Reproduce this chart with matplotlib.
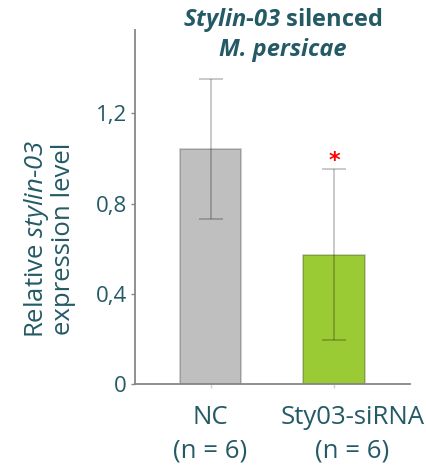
import matplotlib
matplotlib.use("Agg")
import matplotlib.pyplot as plt
from matplotlib.transforms import ScaledTranslation

plt.rcParams['font.family'] = ['Open Sans', 'DejaVu Sans']
plt.rcParams['mathtext.fontset'] = 'custom'
plt.rcParams['mathtext.rm'] = 'Open Sans'
plt.rcParams['mathtext.it'] = 'Open Sans:italic'
plt.rcParams['mathtext.sf'] = 'Open Sans:italic'
plt.rcParams['mathtext.bf'] = 'Open Sans:bold'
plt.rcParams['mathtext.bfit'] = 'Open Sans:italic:bold'

# données
groups = ["NC\n(n = 6)", "Sty03-siRNA\n(n = 6)"]
means = [1.04, 0.573]
errors = [0.31, 0.38]
bar_colors = ["#bfbfbf", "#9acb34"]
signif = ["", "*"]
yticks = [0, 0.4, 0.8, 1.2]
ytick_labels = ["0", "0,4", "0,8", "1,2"]

txt = "#245a66"
axis_col = "#878787"

fig = plt.figure(figsize=(4.26, 4.66), dpi=100)
ax = fig.add_axes([0.317, 0.176, 0.645, 0.760])

x = list(range(len(groups)))
ax.bar(x, means, width=0.5, color=bar_colors, edgecolor=(0, 0, 0, 0.22), linewidth=1.2, zorder=2)
ax.errorbar(x, means, yerr=errors, fmt="none", ecolor=(0, 0, 0, 0.25),
            elinewidth=1.2, capsize=8.5, capthick=1.2, zorder=3)

# astérisque de significativité
for xi, m, e, s in zip(x, means, errors, signif):
    if s:
        ax.text(xi, m + e + 0.035, s, color="red", fontsize=16, fontweight="bold",
                ha="center", va="center", family="DejaVu Sans")

ax.set_xlim(-0.61, 1.61)
ax.set_ylim(0, 1.57)
ax.set_yticks(yticks)
ax.set_yticklabels(ytick_labels)
ax.set_xticks(x)
ax.set_xticklabels(groups)

for side in ["top", "right"]:
    ax.spines[side].set_visible(False)
for side in ["left", "bottom"]:
    ax.spines[side].set_color(axis_col)
    ax.spines[side].set_linewidth(1.3)

ax.tick_params(axis="y", colors=axis_col, labelcolor=txt, labelsize=16, length=3, width=1, pad=3)
ax.tick_params(axis="x", colors="#d0d0d0", labelcolor=txt, labelsize=18.5, length=3, width=1, pad=12)
xlabs = ax.get_xticklabels()
for lab in xlabs:
    lab.set_linespacing(1.45)
# le second libellé est décalé vers la droite dans l'original
xlabs[1].set_transform(xlabs[1].get_transform() + ScaledTranslation(0.18, 0, fig.dpi_scale_trans))

# titre de l'axe y
fig.text(0.115, 0.487, "Relative $\\mathit{stylin}$-$\\mathsf{03}$\nexpression level",
         color=txt, fontsize=18.5, rotation=90, ha="center", va="center", linespacing=1.0)

# titre en deux lignes
fig.text(0.664, 0.957, "$\\mathbfit{Stylin}$-$\\mathbfit{03}$ silenced", color=txt,
         fontsize=17, fontweight="bold", ha="center", va="center")
fig.text(0.664, 0.893, "M. persicae", color=txt, fontsize=17, fontweight="bold",
         style="italic", ha="center", va="center")

fig.savefig("out.png", dpi=100)
